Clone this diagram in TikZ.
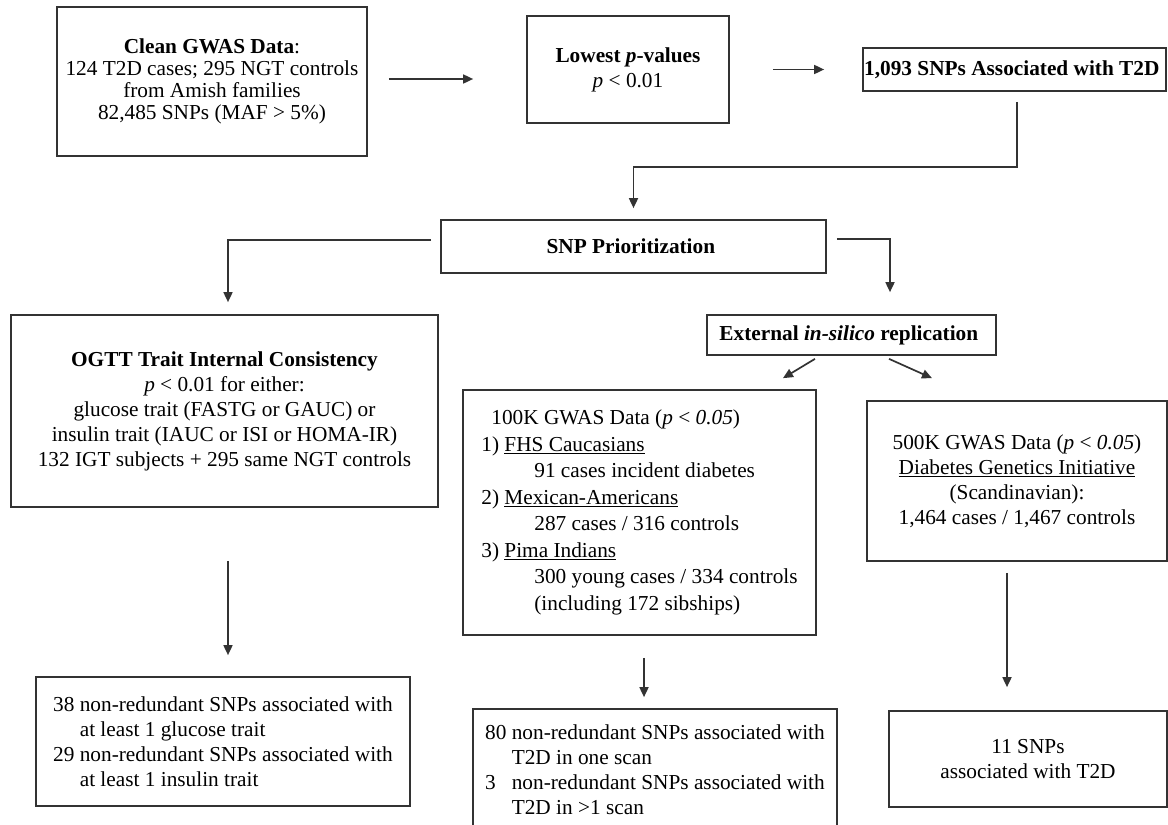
\documentclass[tikz,border=0pt]{standalone}
\usepackage{fontspec}
\setmainfont{Liberation Serif}
\usepackage{tikz}
\usetikzlibrary{arrows.meta,calc}
\usepackage{xcolor}
\definecolor{ink}{HTML}{333333}
\newcommand{\flowtext}{\fontsize{21.3}{25}\selectfont}
\newcommand{\numcol}[1]{\makebox[26.6pt][l]{#1}}

\begin{document}
\begin{tikzpicture}[x=1pt, y=-1pt,
  box/.style={draw=ink, line width=1.7pt, inner sep=0pt, align=center, font=\flowtext},
  arr/.style={draw=ink, line width=1.7pt, -{Triangle[length=10pt,width=9pt]}}]
  \useasboundingbox (0,0) rectangle (1168,825);

  \node[box, minimum width=310, minimum height=149,
        font={\fontsize{21.3}{22}\selectfont}] (clean) at (212,81.5) {
    \textbf{Clean GWAS Data}:\\
    124 T2D cases; 295 NGT controls\\
    from Amish families\\
    82,485 SNPs (MAF > 5\%)
  };
  \node[box, minimum width=202, minimum height=107] (lowest) at (628,69.5) {
    \textbf{Lowest \textit{p}-values}\\
    \textit{p} < 0.01
  };
  \node[box, minimum width=303, minimum height=43] (snps) at (1014.5,69.5) {
    \textbf{1,093 SNPs Associated with T2D}
  };
  \node[box, minimum width=385, minimum height=53] (prior) at (633.5,246.5) {
    \textbf{SNP Prioritization}
  };
  \node[box, minimum width=427, minimum height=192] (ogtt) at (224.5,411) {
    \textbf{OGTT Trait Internal Consistency}\\
    \textit{p} < 0.01 for either:\\
    glucose trait (FASTG or GAUC) or\\
    insulin trait (IAUC or ISI or HOMA-IR)\\
    132 IGT subjects + 295 same NGT controls
  };
  \node[box, minimum width=289, minimum height=40] (ext) at (851.5,335) {
    \textbf{External \textit{in-silico} replication}
  };
  \node[box, align=left, minimum width=353, minimum height=245,
        font={\fontsize{21.3}{26.5}\selectfont}] (gwas100) at (639.5,512.5) {
    \hspace*{10pt}100K GWAS Data (\textit{p} < \textit{0.05})\\
    1) \underline{FHS Caucasians}\\
    \hspace*{53pt}91 cases incident diabetes\\
    2) \underline{Mexican-Americans}\\
    \hspace*{53pt}287 cases / 316 controls\\
    3) \underline{Pima Indians}\\
    \hspace*{53pt}300 young cases / 334 controls\\
    \hspace*{53pt}(including 172 sibships)
  };
  \node[box, minimum width=300, minimum height=160] (gwas500) at (1017,481) {
    500K GWAS Data (\textit{p} < \textit{0.05})\\
    \underline{Diabetes Genetics Initiative}\\
    (Scandinavian):\\
    1,464 cases / 1,467 controls
  };
  \node[box, align=left, minimum width=374, minimum height=129] (botleft) at (223,741.5) {
    38 non-redundant SNPs associated with\\
    \hspace*{26.6pt}at least 1 glucose trait\\
    29 non-redundant SNPs associated with\\
    \hspace*{26.6pt}at least 1 insulin trait
  };
  \node[box, align=left, minimum width=364, minimum height=121] (botmid) at (655,769.5) {
    \numcol{80}non-redundant SNPs associated with\\
    \hspace*{26.6pt}T2D in one scan\\
    \numcol{3}non-redundant SNPs associated with\\
    \hspace*{26.6pt}T2D in >1 scan
  };
  \node[box, minimum width=278, minimum height=96] (botright) at (1028,759) {
    11 SNPs\\
    associated with T2D
  };

  \draw[arr, shorten <=21pt, shorten >=53pt] ([yshift=2.5pt]clean.east) -- ([yshift=2.5pt]clean.east -| lowest.west);
  \draw[arr, shorten <=43pt, shorten >=38pt] (lowest.east) -- (snps.west);
  \draw[arr] ([xshift=2.5pt,yshift=-10pt]snps.south) -- ++(0,65) -| ([yshift=11pt]prior.north);
  \draw[arr] ([xshift=-9pt,yshift=6.5pt]prior.west) -| ([xshift=3.5pt,yshift=12pt]ogtt.north);
  \draw[arr] ([xshift=10pt,yshift=7.5pt]prior.east) -| ([xshift=38.5pt,yshift=22pt]ext.north);
  \draw[arr] ([xshift=-36.5pt,yshift=-3pt]ext.south) -- ([xshift=143.5pt,yshift=11pt]gwas100.north);
  \draw[arr] ([xshift=37.5pt,yshift=-3pt]ext.south) -- ([xshift=-85pt,yshift=22pt]gwas500.north);
  \draw[arr] ([xshift=3.5pt,yshift=-53pt]ogtt.south) -- ([xshift=5pt,yshift=21pt]botleft.north);
  \draw[arr] ([xshift=4.5pt,yshift=-22pt]gwas100.south) -- ([xshift=-11pt,yshift=11pt]botmid.north);
  \draw[arr] ([xshift=-10pt,yshift=-11pt]gwas500.south) -- ([xshift=-21pt,yshift=23pt]botright.north);
\end{tikzpicture}
\end{document}
